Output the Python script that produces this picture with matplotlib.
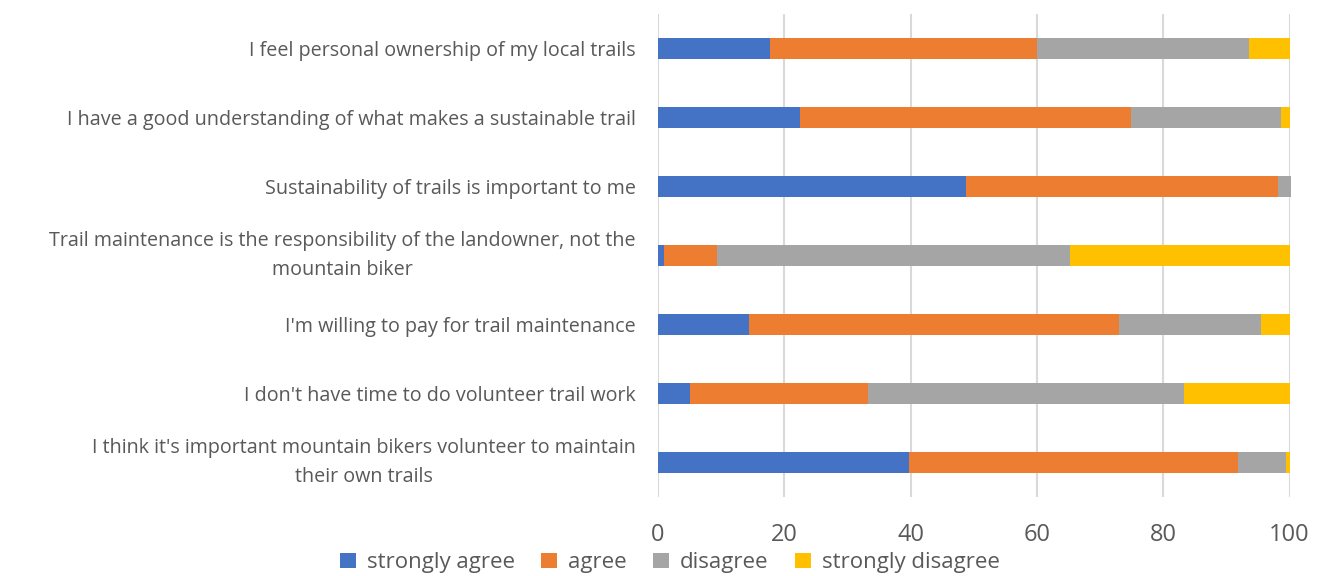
import numpy as np
import matplotlib
matplotlib.use("Agg")
import matplotlib.pyplot as plt

statements = [
    "I feel personal ownership of my local trails",
    "I have a good understanding of what makes a sustainable trail",
    "Sustainability of trails is important to me",
    "Trail maintenance is the responsibility of the landowner, not the\nmountain biker",
    "I'm willing to pay for trail maintenance",
    "I don't have time to do volunteer trail work",
    "I think it's important mountain bikers volunteer to maintain\ntheir own trails",
]
strongly_agree = [17.8, 22.5, 48.8, 1.0, 14.4, 5.0, 39.7]
agree = [42.2, 52.4, 49.3, 8.3, 58.6, 28.3, 52.1]
disagree = [33.5, 23.7, 2.2, 55.9, 22.5, 50.0, 7.7]
strongly_disagree = [6.5, 1.4, 0.0, 34.8, 4.5, 16.7, 0.5]

series = ["strongly agree", "agree", "disagree", "strongly disagree"]
colours = ["#4472c4", "#ed7d31", "#a5a5a5", "#ffc000"]
TXT = "#595959"

plt.rcParams["font.family"] = ["Open Sans", "DejaVu Sans"]

fig = plt.figure(figsize=(13.24, 5.76), dpi=100)
ax = fig.add_axes([0.497, 0.137, 0.477, 0.839])

y = np.arange(len(statements))
left = np.zeros(len(statements))
for name, vals, c in zip(series, [strongly_agree, agree, disagree, strongly_disagree], colours):
    vals = np.asarray(vals)
    ax.barh(y, vals, left=left, height=0.31, color=c, label=name, zorder=3, clip_on=False)
    left += vals

ax.set_ylim(len(statements) - 0.5, -0.5)
ax.set_xlim(0, 100)
ax.set_xticks(range(0, 101, 20))
ax.set_yticks(y)
labels = ax.set_yticklabels(statements, fontsize=14.2, color=TXT, multialignment="center",
                            linespacing=1.55)
for lab in labels:
    # multi-line labels sit centred on the bar, single lines on their baseline centre
    lab.set_va("center" if "\n" in lab.get_text() else "center_baseline")
ax.tick_params(axis="y", length=0, pad=16)
ax.tick_params(axis="x", length=0, pad=19, labelsize=17, labelcolor=TXT)
ax.grid(axis="x", color="#d9d9d9", lw=1.5, zorder=0)
for sp in ax.spines.values():
    sp.set_visible(False)

fig.legend(loc="center", bbox_to_anchor=(670 / 1324, 0.023), ncol=4, frameon=False,
           fontsize=16, handlelength=0.7, handleheight=0.7, handletextpad=0.5,
           columnspacing=1.2, labelcolor=TXT)

fig.savefig("out.png", dpi=100)
